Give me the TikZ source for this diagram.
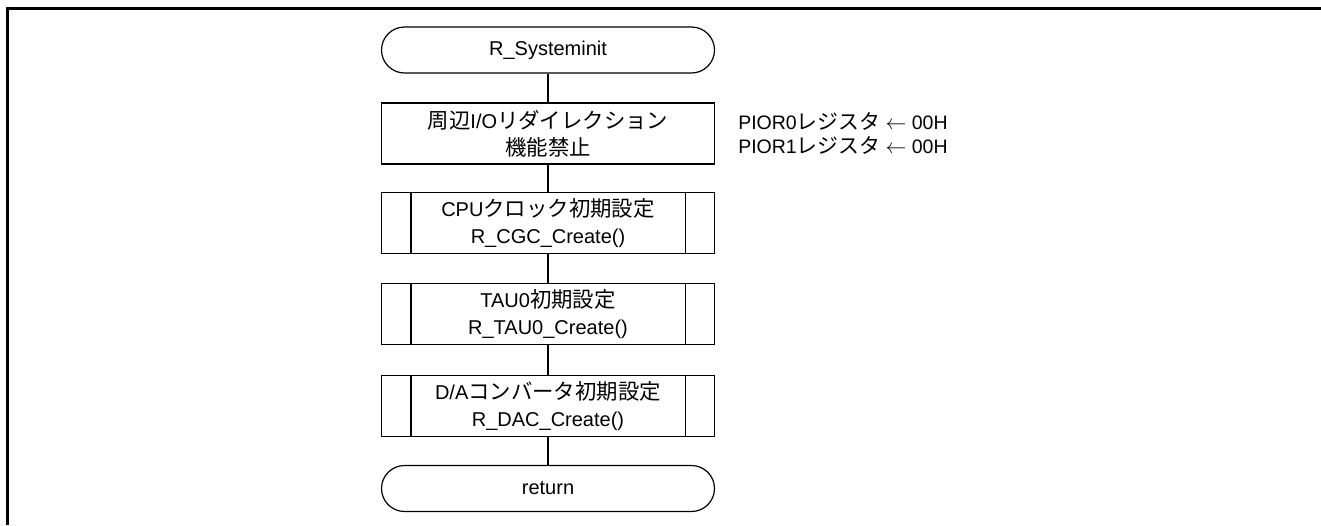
\documentclass[tikz,border=0pt]{standalone}
\usepackage{fontspec}
\setmainfont{Liberation Sans}
\newfontfamily\jp[Scale=1.07]{Noto Sans CJK JP}
\usetikzlibrary{positioning}
\begin{document}
\begin{tikzpicture}[x=1pt, y=-1pt,
	term/.style={shape=rectangle, draw=black, line width=1.2pt, rounded corners=23pt, minimum width=333pt, minimum height=46pt, font=\fontsize{20}{27}\selectfont},
	proc/.style={shape=rectangle, draw=black, line width=1.2pt, minimum width=333pt, minimum height=61pt, align=center, font=\fontsize{20}{27}\selectfont},
	note/.style={align=left, inner sep=0pt, font=\fontsize{19.5}{24}\selectfont},
	flow/.style={draw=black, line width=1.2pt}]
		\useasboundingbox (0,0) rectangle (1321,525);
		\draw[line width=3.3pt] (7.5,525) -- (7.5,8.3) -- (1321,8.3);
		\node (start) at (548,50) [term] {R\_Systeminit};
		\node (redir) at (548,133.5) [proc] {{\jp 周辺}I/O{\jp リダイレクション}\\{\jp 機能禁止}};
		\node (cgc) at (548,223) [proc] {CPU{\jp クロック初期設定}\\R\_CGC\_Create()};
		\node (tau) at (548,314) [proc] {TAU0{\jp 初期設定}\\R\_TAU0\_Create()};
		\node (dac) at (548,406) [proc] {D/A{\jp コンバータ初期設定}\\R\_DAC\_Create()};
		\node (ret) at (548,488.5) [term] {return};
		\node (pior) [note, right=23pt of redir] {PIOR0{\jp レジスタ} $\leftarrow$ 00H\\PIOR1{\jp レジスタ} $\leftarrow$ 00H};
		\foreach \n in {cgc,tau,dac}
			\draw[flow] ([xshift=30pt]\n.north west) -- ([xshift=30pt]\n.south west)
				([xshift=-30pt]\n.north east) -- ([xshift=-30pt]\n.south east);
		\foreach \a/\b in {start/redir,redir/cgc,cgc/tau,tau/dac,dac/ret}
			\draw[flow] (\a) -- (\b);
		\end{tikzpicture}
\end{document}
